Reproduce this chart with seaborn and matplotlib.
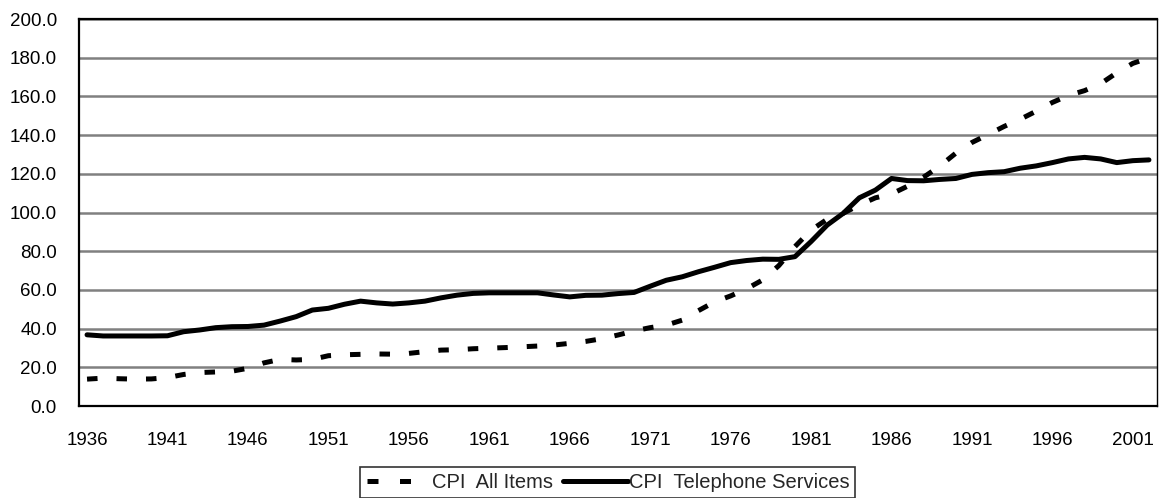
import numpy as np
import pandas as pd
import matplotlib
matplotlib.use("Agg")
import matplotlib.pyplot as plt
import seaborn as sns

# Data (index values)
years = list(range(1936, 2003))

cpi_all_items = [
    13.9, 14.4, 14.1, 13.9, 14.0, 14.7, 16.3, 17.3, 17.6, 18.0,
    19.5, 22.3, 24.1, 23.8, 24.1, 26.0, 26.5, 26.7, 26.9, 26.8,
    27.2, 28.1, 28.9, 29.1, 29.6, 29.9, 30.2, 30.6, 31.0, 31.5,
    32.4, 33.4, 34.8, 36.7, 38.8, 40.5, 41.8, 44.4, 49.3, 53.8,
    56.9, 60.6, 65.2, 72.6, 82.4, 90.9, 96.5, 99.6, 103.9, 107.6,
    109.6, 113.6, 118.3, 124.0, 130.7, 136.2, 140.3, 144.5, 148.2, 152.4,
    156.9, 160.5, 163.0, 166.6, 172.2, 177.1, 179.9,
]

cpi_telephone = [
    36.8, 36.2, 36.2, 36.2, 36.2, 36.3, 38.4, 39.3, 40.5, 41.0,
    41.1, 41.8, 43.9, 46.2, 49.6, 50.5, 52.6, 54.2, 53.3, 52.7,
    53.3, 54.2, 55.9, 57.3, 58.2, 58.5, 58.5, 58.5, 58.5, 57.4,
    56.4, 57.2, 57.3, 58.1, 58.7, 61.9, 65.0, 66.8, 69.4, 71.7,
    74.1, 75.2, 75.9, 75.8, 77.2, 85.0, 93.5, 99.6, 107.6, 111.6,
    117.6, 116.5, 116.4, 117.1, 117.6, 119.7, 120.6, 121.1, 122.9, 124.1,
    125.8, 127.7, 128.5, 127.7, 125.8, 126.8, 127.2,
]

tick_years = list(range(1936, 2002, 5))
y_ticks = np.arange(0, 201, 20)

df = pd.DataFrame({
    "year": years,
    "all_items": cpi_all_items,
    "telephone": cpi_telephone,
})

sns.set_style("white")
plt.rcParams["font.family"] = ["Liberation Sans", "DejaVu Sans"]

fig = plt.figure(figsize=(11.6, 4.98), dpi=100)
ax = fig.add_axes([0.0681, 0.1847, 0.9293, 0.7771])

sns.lineplot(data=df, x="year", y="all_items", ax=ax, color="black",
             linewidth=3.6, label="CPI  All Items")
ax.lines[-1].set_dashes((2.1, 3.8))
ax.lines[-1].set_dash_capstyle("butt")

sns.lineplot(data=df, x="year", y="telephone", ax=ax, color="black",
             linewidth=3.6, label="CPI  Telephone Services")
ax.lines[-1].set_solid_capstyle("round")
ax.lines[-1].set_solid_joinstyle("round")

ax.set_xlim(1935.5, 2002.5)
ax.set_ylim(0, 200)
ax.set_xticks(tick_years)
ax.set_xticklabels([str(y) for y in tick_years])
ax.set_yticks(y_ticks)
ax.set_yticklabels([f"{v:.1f}" for v in y_ticks])
ax.tick_params(axis="both", length=0, labelsize=13.5, colors="black")
ax.tick_params(axis="x", pad=19)
ax.tick_params(axis="y", pad=16)
ax.set_xlabel("")
ax.set_ylabel("")

ax.yaxis.grid(True, color="#808080", linewidth=1.8)
ax.set_axisbelow(True)
for side, spine in ax.spines.items():
    spine.set_visible(True)
    spine.set_color("black")
    spine.set_linewidth(1.6 if side in ("left", "bottom", "top") else 1.0)

handles, labels = ax.get_legend_handles_labels()
ax.get_legend().remove()
leg = fig.legend(handles, labels, loc="lower center", bbox_to_anchor=(0.524, 0.0),
                 ncol=2, frameon=True, fancybox=False, fontsize=14.5,
                 handlelength=3.2, handletextpad=0.05, columnspacing=0.5,
                 borderpad=0.3, borderaxespad=0.0)
leg.get_frame().set_edgecolor("black")
leg.get_frame().set_linewidth(1.2)
# two dashes then a gap in the legend key, like the original
leg.get_lines()[0].set_dashes((2.2, 4.3))

fig.savefig("out.png", dpi=100)
